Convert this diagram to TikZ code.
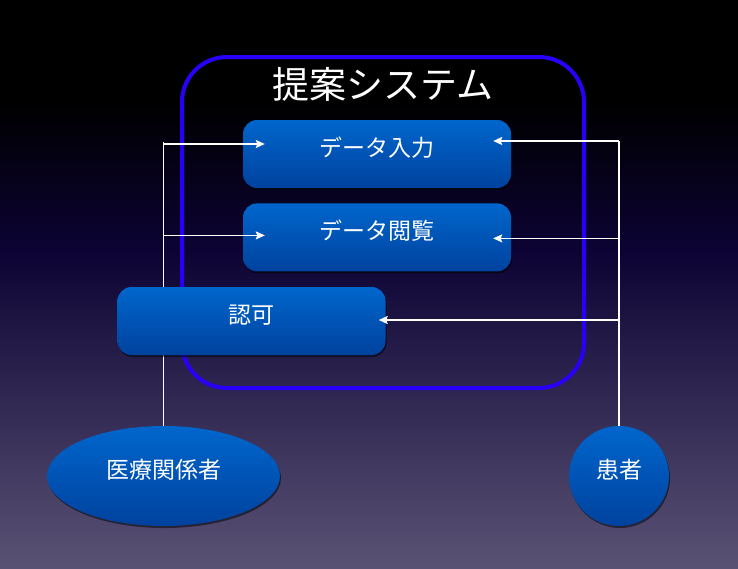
\documentclass[tikz,border=0pt]{standalone}
\usepackage{fontspec}
\newfontfamily\jpfont{Noto Sans CJK JP}
\usetikzlibrary{arrows.meta,positioning,shapes.geometric,shadows}

\pgfdeclarelayer{back}
\pgfdeclarelayer{wires}
\pgfsetlayers{back,wires,main}

\definecolor{sysblue}{RGB}{40,0,250}
\definecolor{boxtop}{RGB}{0,102,204}
\definecolor{boxbottom}{RGB}{0,66,158}
\definecolor{skymid}{RGB}{12,3,52}
\definecolor{skybottom}{RGB}{90,82,116}

\pgfdeclareverticalshading{sky}{100bp}{color(0bp)=(skybottom); color(25bp)=(skybottom); color(53bp)=(skymid); color(66bp)=(black); color(100bp)=(black)}

\begin{document}
\begin{tikzpicture}[
    x=1pt, y=-1pt,
    label/.style={text=white, font=\jpfont\fontsize{23}{26}\selectfont, text height=17pt, text depth=13pt},
    block/.style={label, rounded corners=14pt, minimum width=268pt, minimum height=68pt, inner sep=0pt,
        top color=boxtop, bottom color=boxbottom, drop shadow={fill=black, opacity=0.5, shadow xshift=1pt, shadow yshift=-2pt}},
    actor/.style={label, inner sep=0pt, top color=boxtop, bottom color=boxbottom,
        drop shadow={fill=black, opacity=0.5, shadow xshift=1pt, shadow yshift=-2pt}},
    wire/.style={white, line width=1.5pt},
    arrow/.style={wire, -{Stealth[length=9pt, width=8pt, inset=1.5pt]}},
]
    % background and system frame
    \begin{pgfonlayer}{back}
        \fill[shading=sky] (0,0) rectangle (738,568);
        \node[draw=sysblue, line width=4pt, rounded corners=45pt, minimum width=402pt, minimum height=331pt] (system) at (383,222.5) {};
    \end{pgfonlayer}
    \node[text=white, font=\jpfont\fontsize{37}{40}\selectfont] (title) at (383,84) {提案システム};

    \node[block] (input) at (377,154) {データ入力};
    \node[block, below=15pt of input] (view) {データ閲覧};
    \node[block] (auth) at (251.5,321) {認可};

    \node[actor, ellipse, minimum width=233pt, minimum height=100pt] (staff) at (163.5,476) {医療関係者};
    \node[actor, circle, minimum size=100pt] (patient) at (619,476) {患者};

    \coordinate (in-l) at ([shift={(22,-10)}]input.west);
    \coordinate (view-l) at ([shift={(22,-2)}]view.west);
    \coordinate (in-r) at ([shift={(-18,-13)}]input.east);
    \coordinate (view-r) at ([shift={(-18,1)}]view.east);
    \coordinate (auth-r) at ([shift={(-7,-1)}]auth.east);

    % vertical wires run behind the boxes
    \begin{pgfonlayer}{wires}
        \draw[wire] (staff.north) -- ([yshift=2pt]staff.north |- in-l);
        \draw[wire] (patient.north) -- (patient.north |- in-r);
    \end{pgfonlayer}
    \draw[arrow] (staff.north |- in-l) -- (in-l);
    \draw[arrow] (staff.north |- view-l) -- (view-l);
    \draw[arrow] (patient.north |- in-r) -- (in-r);
    \draw[arrow] (patient.north |- view-r) -- (view-r);
    \draw[arrow] (patient.north |- auth-r) -- (auth-r);
\end{tikzpicture}
\end{document}
